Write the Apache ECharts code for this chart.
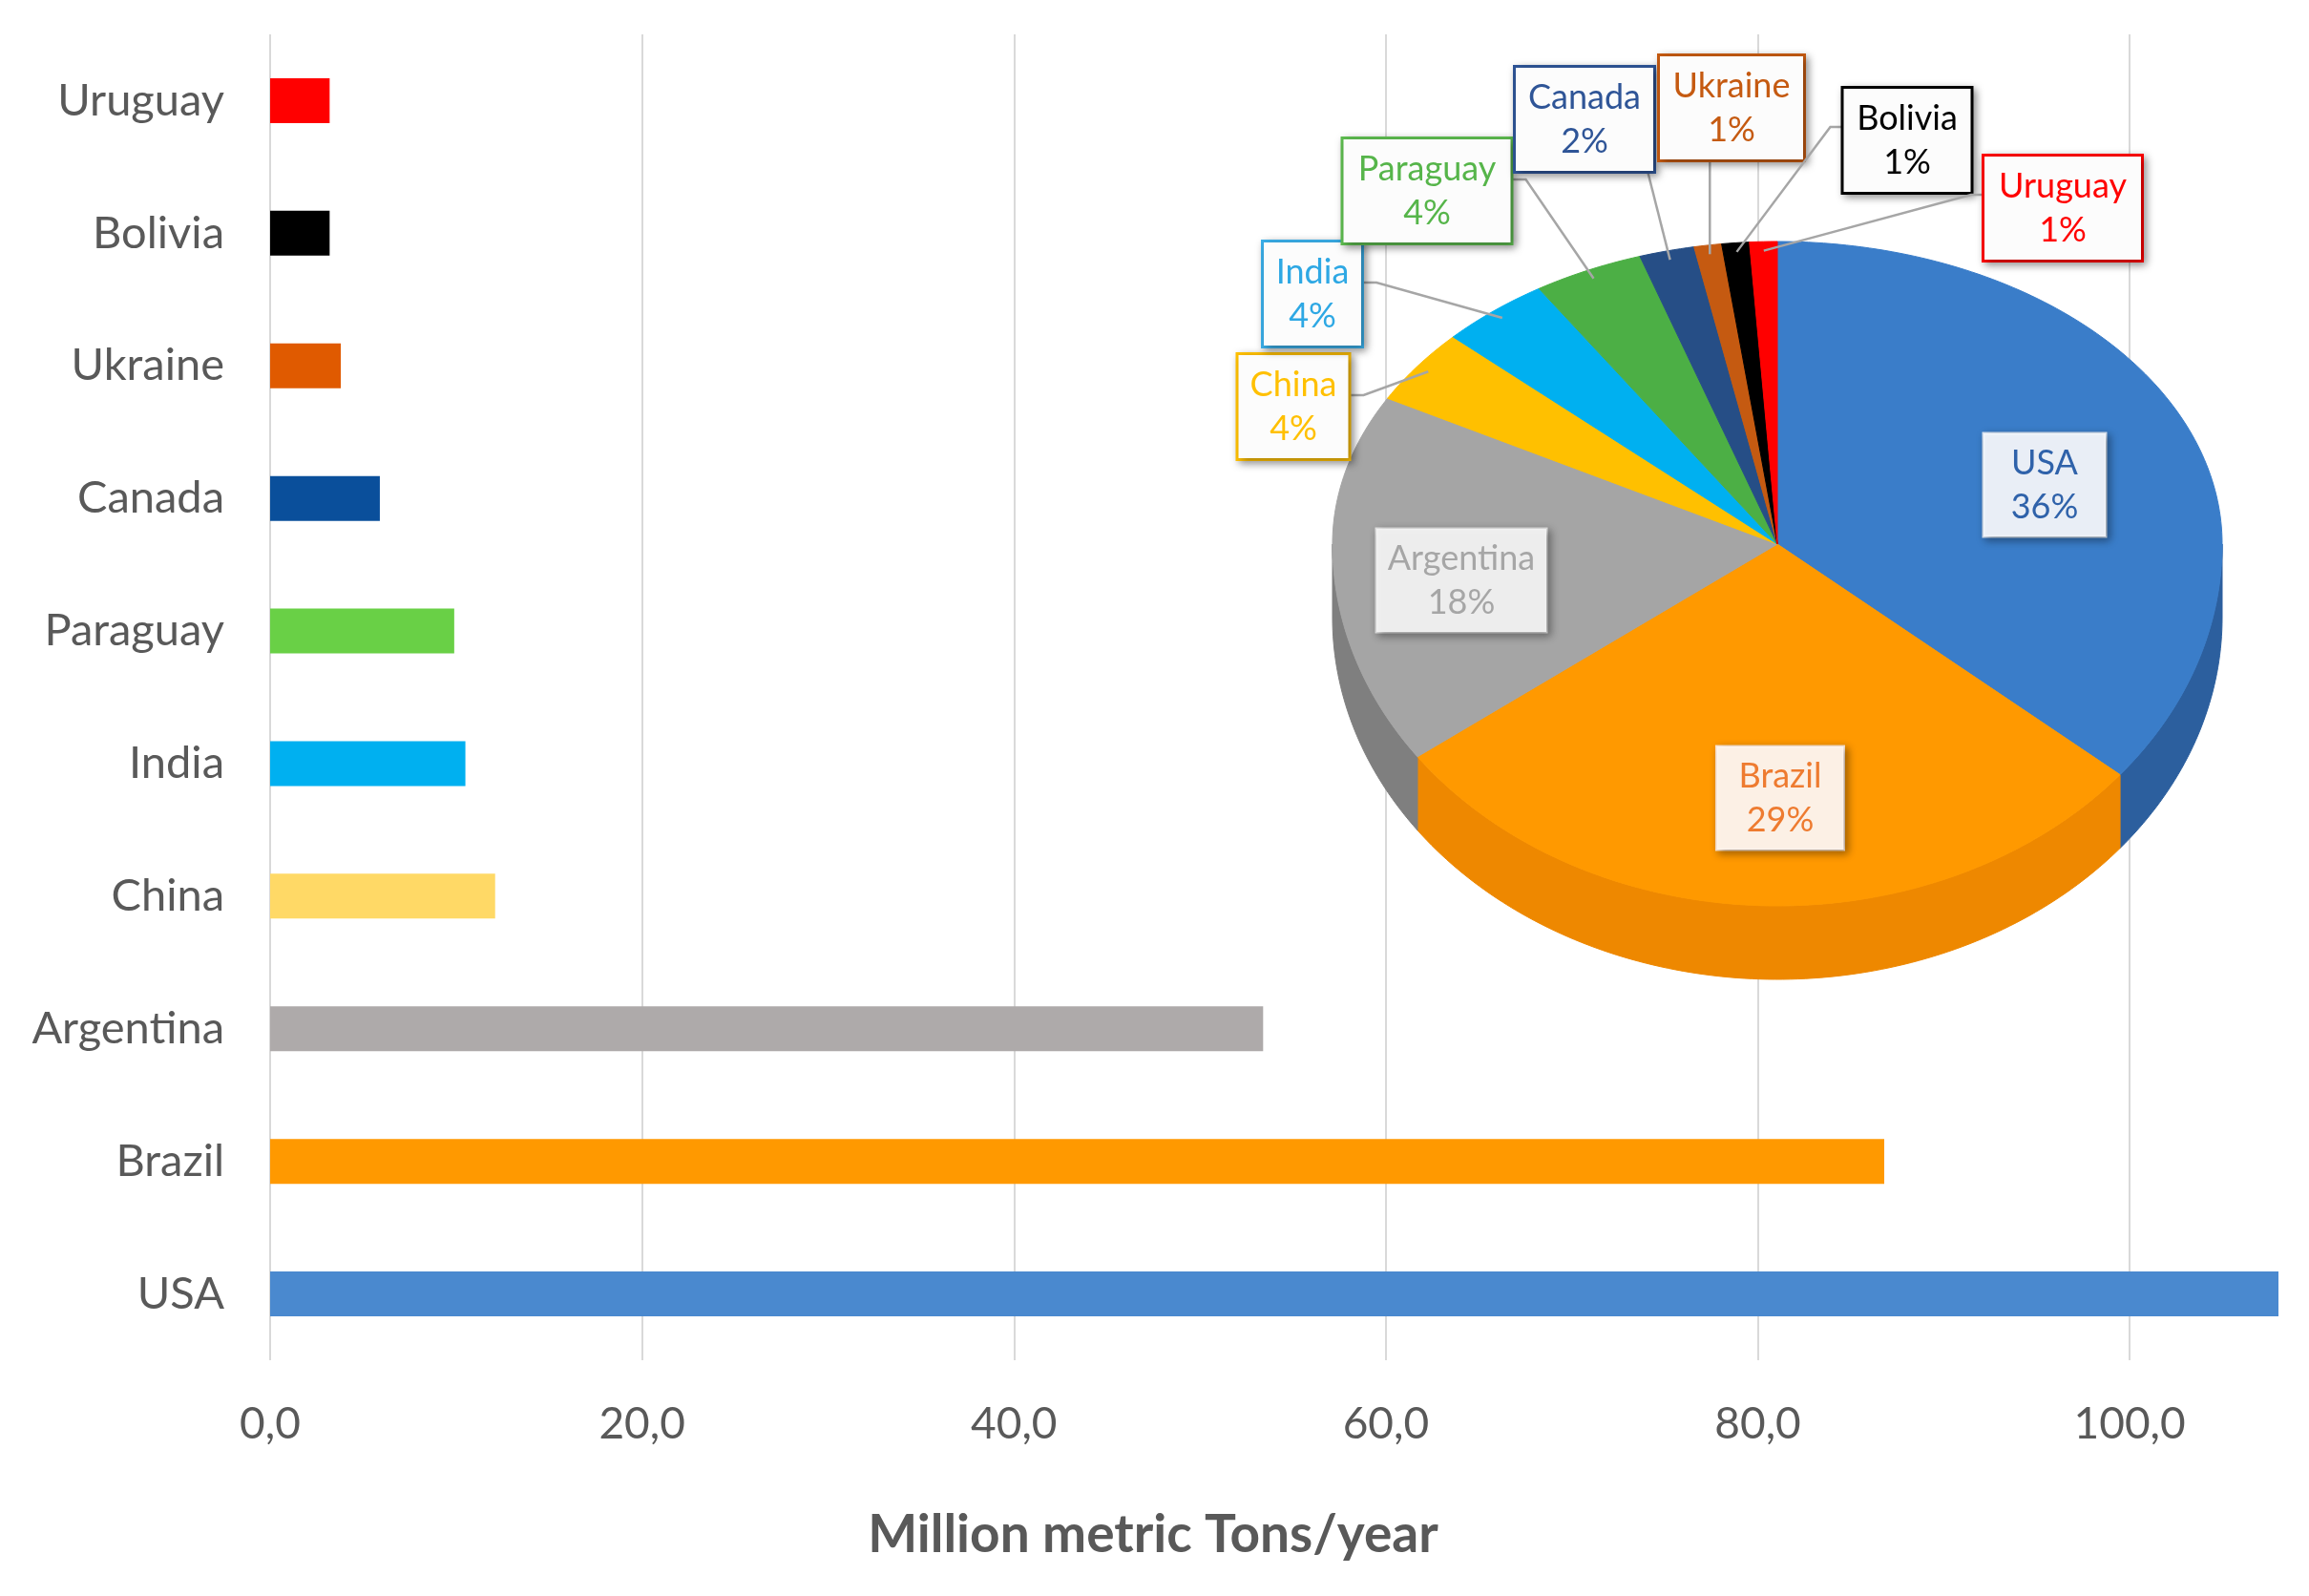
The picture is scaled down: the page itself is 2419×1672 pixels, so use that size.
<!DOCTYPE html>
<html>
<head>
<meta charset="utf-8">
<script src="https://cdn.jsdelivr.net/npm/echarts@6/dist/echarts.min.js"></script>
<style>
html,body{margin:0;padding:0;background:#fff;}
#c{width:2419px;height:1672px;}
</style>
</head>
<body>
<div id="c"></div>
<script>
// ---- data ----
const categories = ['Uruguay','Bolivia','Ukraine','Canada','Paraguay','India','China','Argentina','Brazil','USA'];
const production = [3.2, 3.2, 3.8, 5.9, 9.9, 10.5, 12.1, 53.4, 86.8, 108.0];
const barColors = ['#FF0000','#000000','#E05A00','#0A4F9B','#69D046','#00B0F0','#FFD966','#AEAAAA','#FF9900','#4A89CF'];

const pieNames = ['USA','Brazil','Argentina','China','India','Paraguay','Canada','Ukraine','Bolivia','Uruguay'];
const pieShares = [36, 29, 18, 4, 4, 4, 2, 1, 1, 1];
const pieColors = ['#3A7DC9','#FF9900','#A5A5A5','#FFC000','#00B0F0','#4CAF45','#264E86','#C55A11','#000000','#FF0000'];
const pieSideColors = ['#2C5F9E','#EE8800','#7F7F7F','#D9A300','#0090C8','#3A8C35','#1B3A66','#9C460C','#000000','#CC0000'];

const axisTitle = 'Million metric Tons/year';

// ---- pie geometry (layout) ----
const P = {cx: 1862, cy: 570, rx: 466, ryTop: 317, ryBot: 379, depth: 77};
const total = pieShares.reduce((a,b)=>a+b,0);
const startAngles = [];
{ let acc = 0; pieShares.forEach(v=>{ startAngles.push(acc/total*Math.PI*2); acc+=v; }); }
function ang(i){ return [startAngles[i], startAngles[i] + pieShares[i]/total*Math.PI*2]; }
function ept(t, dy, f){
  f = f||1;
  const c = Math.cos(t);
  const ry = c >= 0 ? P.ryTop : P.ryBot;
  return [P.cx + P.rx*f*Math.sin(t), P.cy - ry*f*c + (dy||0)];
}
function arc(a1, a2, dy){
  const pts=[]; const n=Math.max(2, Math.ceil((a2-a1)/(Math.PI/180)));
  for(let k=0;k<=n;k++){ pts.push(ept(a1+(a2-a1)*k/n, dy)); }
  return pts;
}

// label layout (positions/styles)
const labelLayout = {
  USA:      {x:2142, y:508, w:128, text:'#2F62AA', bg:'rgba(243,247,252,0.95)', border:'#D5E1F0', inside:true},
  Brazil:   {x:1865, y:836, w:133, text:'#EE7B30', bg:'rgba(255,246,238,0.96)', border:'#FCE4D0', inside:true},
  Argentina:{x:1531, y:608, w:178, text:'#A6A6A6', bg:'rgba(243,243,243,0.96)', border:'#E2E2E2', inside:true},
  China:    {x:1355, y:426, w:115, text:'#FFC000', bg:'#FCFCFC', border:'#FFC000', side:'right'},
  India:    {x:1375, y:308, w:102, text:'#2EA8E4', bg:'#FCFCFC', border:'#3AAEE8', side:'right'},
  Paraguay: {x:1495, y:200, w:175, text:'#56B54A', bg:'#FCFCFC', border:'#5DBB4F', side:'right'},
  Canada:   {x:1660, y:125, w:144, text:'#2F5597', bg:'#FCFCFC', border:'#2F5597', side:'bottom'},
  Ukraine:  {x:1814, y:113, w:150, text:'#C55A11', bg:'#FCFCFC', border:'#C55A11', side:'bottom'},
  Bolivia:  {x:1998, y:147, w:133, text:'#000000', bg:'#FCFCFC', border:'#000000', side:'left'},
  Uruguay:  {x:2161, y:218, w:164, text:'#FF0000', bg:'#FCFCFC', border:'#FF0000', side:'left'}
};
const LBH = 108;

const chart = echarts.init(document.getElementById('c'), null, {renderer:'canvas'});

const option = {
  backgroundColor: '#ffffff',
  animation: false,
  title: {
    text: axisTitle, left: 1203, top: 1576, textAlign: 'center',
    textStyle: {fontFamily: 'Lato', fontWeight: 'bold', fontSize: 55, color: '#595959'}
  },
  grid: {left: 283, right: 32, top: 36, bottom: 247, containLabel: false},
  xAxis: {
    type: 'value', min: 0, max: 108, interval: 20,
    axisLine: {show: false}, axisTick: {show: false},
    splitLine: {show: true, showMaxLine: false, lineStyle: {color: '#D9D9D9', width: 2}},
    axisLabel: {
      showMaxLabel: false, margin: 44, color: '#595959', fontFamily: 'Lato', fontSize: 46,
      formatter: v => v.toFixed(1).replace('.', ',')
    }
  },
  yAxis: {
    type: 'category', data: categories, inverse: true,
    axisLine: {show: false}, axisTick: {show: false},
    axisLabel: {margin: 48, color: '#595959', fontFamily: 'Lato', fontSize: 47}
  },
  series: [
    {
      type: 'bar', barWidth: 47, z: 1,
      data: production.map((v,i)=>({value: v, itemStyle: {color: barColors[i]}}))
    },
    {
      type: 'custom', coordinateSystem: 'none', z: 5,
      data: pieShares.map(v=>[v]),
      renderItem: function(params, api){
        const i = params.dataIndex;
        const [a1,a2] = ang(i);
        const s = Math.max(a1, Math.PI/2), e = Math.min(a2, Math.PI*1.5);
        if (s >= e) return {type:'group', children:[]};
        const top = arc(s, e, 0);
        const bot = arc(s, e, P.depth).reverse();
        return {type:'polygon', shape:{points: top.concat(bot)},
          style:{fill: pieSideColors[i], stroke: pieSideColors[i], lineWidth: 1}};
      }
    },
    {
      type: 'custom', coordinateSystem: 'none', z: 6,
      data: pieShares.map(v=>[v]),
      renderItem: function(params, api){
        const i = params.dataIndex;
        const [a1,a2] = ang(i);
        const pts = [[P.cx, P.cy]].concat(arc(a1, a2, 0));
        return {type:'polygon', shape:{points: pts},
          style:{fill: pieColors[i], stroke: pieColors[i], lineWidth: 1}};
      }
    },
    {
      type: 'custom', coordinateSystem: 'none', z: 7,
      data: pieShares.map(v=>[v]),
      renderItem: function(params, api){
        const i = params.dataIndex;
        const name = pieNames[i];
        const L = labelLayout[name];
        const [a1,a2] = ang(i);
        const mid = (a1+a2)/2;
        const children = [];
        if (!L.inside) {
          const tip = ept(mid, 0, 0.97);
          let pts;
          if (L.side === 'right') {
            const sx = L.x + L.w/2, sy = L.y - 12;
            pts = [[sx, sy], [sx+16, sy], tip];
          } else if (L.side === 'left') {
            const sx = L.x - L.w/2, sy = L.y - 14;
            pts = [[sx, sy], [sx-14, sy], tip];
          } else {
            const sx = Math.min(Math.max(tip[0], L.x - L.w/2 + 6), L.x + L.w/2 - 6);
            pts = [[sx, L.y + LBH/2], tip];
          }
          children.push({type:'polyline', shape:{points: pts},
            style:{stroke:'#A6A6A6', lineWidth: 2.5, fill: null}});
        }
        children.push({
          type:'text', x: L.x, y: L.y,
          style:{
            text: name + '\n' + pieShares[i] + '%',
            fontFamily: 'Lato', fontSize: 36, lineHeight: 46,
            fill: L.text, align: 'center', verticalAlign: 'middle',
            width: L.w, padding: [8, 0],
            backgroundColor: L.bg, borderColor: L.border, borderWidth: L.inside ? 1.5 : 3,
            shadowColor: 'rgba(0,0,0,0.35)', shadowBlur: 8, shadowOffsetX: 3, shadowOffsetY: 3
          }
        });
        return {type:'group', children: children};
      }
    }
  ]
};
chart.setOption(option);
</script>
</body>
</html>
